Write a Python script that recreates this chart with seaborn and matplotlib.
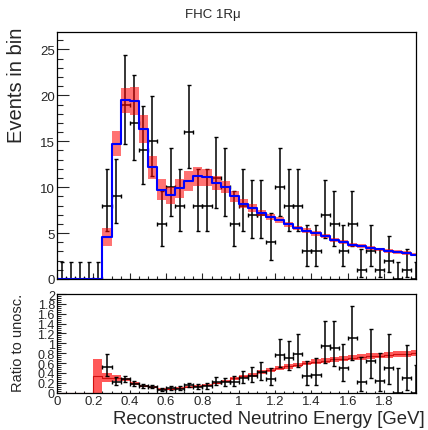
import numpy as np
import pandas as pd
import matplotlib
matplotlib.use('Agg')
import matplotlib.pyplot as plt
import seaborn as sns
from matplotlib.ticker import MultipleLocator, FormatStrFormatter

# ---------------- data (40 bins of 0.05 GeV) ----------------
bin_edges = np.round(np.arange(0.0, 2.0001, 0.05), 3)

data_counts = [0, 0, 0, 0, 0, 8, 9, 19, 17, 14,
               15, 6, 10, 8, 16, 8, 8, 11, 10, 6,
               8, 7, 7, 4, 10, 8, 8, 3, 3, 7,
               6, 3, 6, 1, 3, 1, 2, 0, 1, 0]

pred_counts = [0, 0, 0, 0, 0, 4.58, 14.75, 19.45, 19.40, 16.34,
               12.16, 9.73, 9.12, 9.90, 10.71, 11.18, 11.07, 10.48, 10.03, 9.00,
               8.22, 7.73, 7.17, 6.72, 6.40, 5.95, 5.55, 5.25, 4.97, 4.65,
               4.27, 4.02, 3.74, 3.56, 3.40, 3.22, 3.04, 2.92, 2.82, 2.65]

pred_syst = [0, 0, 0, 0, 0, 0.95, 1.38, 1.36, 1.50, 1.50,
             1.27, 1.12, 0.95, 1.03, 1.10, 1.05, 0.92, 0.78, 0.68, 0.58,
             0.46, 0.42, 0.36, 0.33, 0.30, 0.28, 0.26, 0.25, 0.24, 0.23,
             0.22, 0.22, 0.21, 0.21, 0.20, 0.20, 0.19, 0.19, 0.18, 0.18]

ratio_pred = [0, 0, 0, 0, 0.345, 0.305, 0.30, 0.27, 0.19, 0.14,
              0.12, 0.075, 0.075, 0.09, 0.12, 0.14, 0.16, 0.195, 0.24, 0.29,
              0.33, 0.36, 0.41, 0.46, 0.50, 0.535, 0.56, 0.60, 0.63, 0.65,
              0.68, 0.69, 0.71, 0.72, 0.74, 0.75, 0.765, 0.78, 0.79, 0.805]

ratio_syst = [0, 0, 0, 0, 0.345, 0.085, 0.06, 0.035, 0.025, 0.02,
              0.02, 0.02, 0.02, 0.02, 0.02, 0.02, 0.025, 0.025, 0.025, 0.03,
              0.035, 0.035, 0.04, 0.04, 0.04, 0.045, 0.045, 0.045, 0.05, 0.05,
              0.05, 0.05, 0.055, 0.055, 0.055, 0.055, 0.06, 0.06, 0.06, 0.06]

data_ratio = [np.nan, np.nan, np.nan, np.nan, np.nan, 0.53, 0.22, 0.27, 0.18, 0.13,
              0.12, 0.055, 0.09, 0.085, 0.155, 0.12, 0.13, 0.22, 0.21, 0.21,
              0.30, 0.345, 0.41, 0.28, 0.765, 0.70, 0.79, 0.33, 0.36, 0.945,
              0.91, 0.50, 1.10, 0.22, 0.65, 0.245, 0.51, 0.0, 0.29, 0.0]

title_text = "FHC 1R\u03bc"
ylabel_top = "Events in bin"
ylabel_bottom = "Ratio to unosc."
xlabel_text = "Reconstructed Neutrino Energy [GeV]"

# ---------------- helpers ----------------
ALPHA = 0.158655


def poisson_cdf(n, mu):
    term = np.exp(-mu)
    s = term
    for k in range(1, n + 1):
        term *= mu / k
        s += term
    return s


def bisect(f, lo, hi):
    for _ in range(80):
        mid = 0.5 * (lo + hi)
        if f(mid) > 0:
            lo = mid
        else:
            hi = mid
    return 0.5 * (lo + hi)


def garwood(n):
    if n == 0:
        low = 0.0
    else:
        low = bisect(lambda m: poisson_cdf(n - 1, m) - (1 - ALPHA), 0.0, n + 60.0)
    up = bisect(lambda m: poisson_cdf(n, m) - ALPHA, 0.0, n + 60.0)
    return n - low, up - n


centers = 0.5 * (bin_edges[:-1] + bin_edges[1:])
width = np.diff(bin_edges)
counts = np.array(data_counts)
pred = np.array(pred_counts, dtype=float)
psys = np.array(pred_syst, dtype=float)
rpred = np.array(ratio_pred, dtype=float)
rsys = np.array(ratio_syst, dtype=float)
dratio = np.array(data_ratio, dtype=float)

errs = np.array([garwood(int(n)) for n in counts])
err_lo, err_hi = errs[:, 0], errs[:, 1]

# scale from counts to ratio for each bin
safe_pred = np.where(pred > 0, pred, 1.0)
scale = np.where(counts > 0, dratio / np.maximum(counts, 1),
                 np.where(pred > 0, rpred / safe_pred, np.nan))
r_lo = err_lo * scale
r_hi = err_hi * scale

step_top = pd.DataFrame({'E': bin_edges, 'v': np.append(pred, pred[-1])})
step_bot = pd.DataFrame({'E': bin_edges, 'v': np.append(rpred, rpred[-1])})

# ---------------- figure ----------------
sns.set_style('ticks')
plt.rcParams['font.family'] = ['Liberation Sans', 'DejaVu Sans']

W, H = 428, 431
fig = plt.figure(figsize=(W / 100, H / 100), dpi=100)
fig.patch.set_facecolor('white')

L, R = 57, 416
ax1 = fig.add_axes([L / W, 1 - 280 / H, (R - L) / W, 247 / H])
ax2 = fig.add_axes([L / W, 1 - 393.7 / H, (R - L) / W, 98.7 / H])

xmax = 1.975
eb_kw = dict(fmt='none', ecolor='black', elinewidth=1.1, capsize=1.6, capthick=1.0)

# --- top panel ---
ax1.errorbar(centers, counts, xerr=width / 2, yerr=[err_lo, err_hi], zorder=2, **eb_kw)
ax1.bar(bin_edges[:-1], 2 * psys, bottom=pred - psys, width=width, align='edge',
        color='red', alpha=0.55, linewidth=0, zorder=3)
sns.lineplot(data=step_top, x='E', y='v', drawstyle='steps-post', estimator=None,
             sort=False, color='blue', linewidth=1.5, ax=ax1, zorder=4)

ax1.set_xlim(0, xmax)
ax1.set_ylim(0, 26.9)
ax1.set_xlabel('')
ax1.set_ylabel('')
ax1.xaxis.set_major_locator(MultipleLocator(0.2))
ax1.xaxis.set_minor_locator(MultipleLocator(0.05))
ax1.yaxis.set_major_locator(MultipleLocator(5))
ax1.yaxis.set_minor_locator(MultipleLocator(1))
ax1.tick_params(axis='x', which='both', labelbottom=False)
ax1.tick_params(axis='x', which='major', direction='in', length=4.3, width=0.8)
ax1.tick_params(axis='x', which='minor', direction='in', length=2.5, width=0.8)
ax1.tick_params(axis='y', which='major', direction='in', length=8.6, width=0.8,
                labelsize=9.5, pad=1.5)
ax1.tick_params(axis='y', which='minor', direction='in', length=4.3, width=0.8)

# --- bottom panel ---
ax2.bar(bin_edges[:-1], 2 * rsys, bottom=rpred - rsys, width=width, align='edge',
        color='red', alpha=0.65, linewidth=0, zorder=2)
sns.lineplot(data=step_bot, x='E', y='v', drawstyle='steps-post', estimator=None,
             sort=False, color='#d01010', linewidth=0.8, ax=ax2, zorder=2.5)
ok = ~np.isnan(dratio)
ax2.errorbar(centers[ok], dratio[ok], xerr=(width / 2)[ok], yerr=[r_lo[ok], r_hi[ok]],
             zorder=3, **eb_kw)

ax2.set_xlim(0, xmax)
ax2.set_ylim(0, 2)
ax2.set_xlabel('')
ax2.set_ylabel('')
ax2.xaxis.set_major_locator(MultipleLocator(0.2))
ax2.xaxis.set_minor_locator(MultipleLocator(0.05))
ax2.yaxis.set_major_locator(MultipleLocator(0.2))
ax2.yaxis.set_minor_locator(MultipleLocator(0.04))
ax2.xaxis.set_major_formatter(FormatStrFormatter('%g'))
ax2.yaxis.set_major_formatter(FormatStrFormatter('%g'))
ax2.tick_params(axis='x', which='major', direction='in', length=2.5, width=0.8,
                labelsize=9.5, pad=2)
ax2.tick_params(axis='x', which='minor', direction='in', length=1.4, width=0.8)
ax2.tick_params(axis='y', which='major', direction='in', length=6.5, width=0.8,
                labelsize=9, pad=1.5)
ax2.tick_params(axis='y', which='minor', direction='in', length=3.2, width=0.7)

for ax in (ax1, ax2):
    ax.set_facecolor('white')
    for s in ax.spines.values():
        s.set_linewidth(0.9)
        s.set_color('black')
        s.set_visible(True)
        s.set_zorder(6)

# --- texts ---
fig.text(213 / W, 1 - 15 / H, title_text, ha='center', va='center', fontsize=9.5)
fig.text(17 / W, 1 - 28 / H, ylabel_top, rotation=90, ha='center', va='top', fontsize=14.5)
fig.text(18 / W, 1 - 294 / H, ylabel_bottom, rotation=90, ha='center', va='top', fontsize=10.5)
fig.text(425 / W, 1 - 420 / H, xlabel_text, ha='right', va='center', fontsize=13.4)

fig.savefig('out.png', dpi=100, facecolor='white')
